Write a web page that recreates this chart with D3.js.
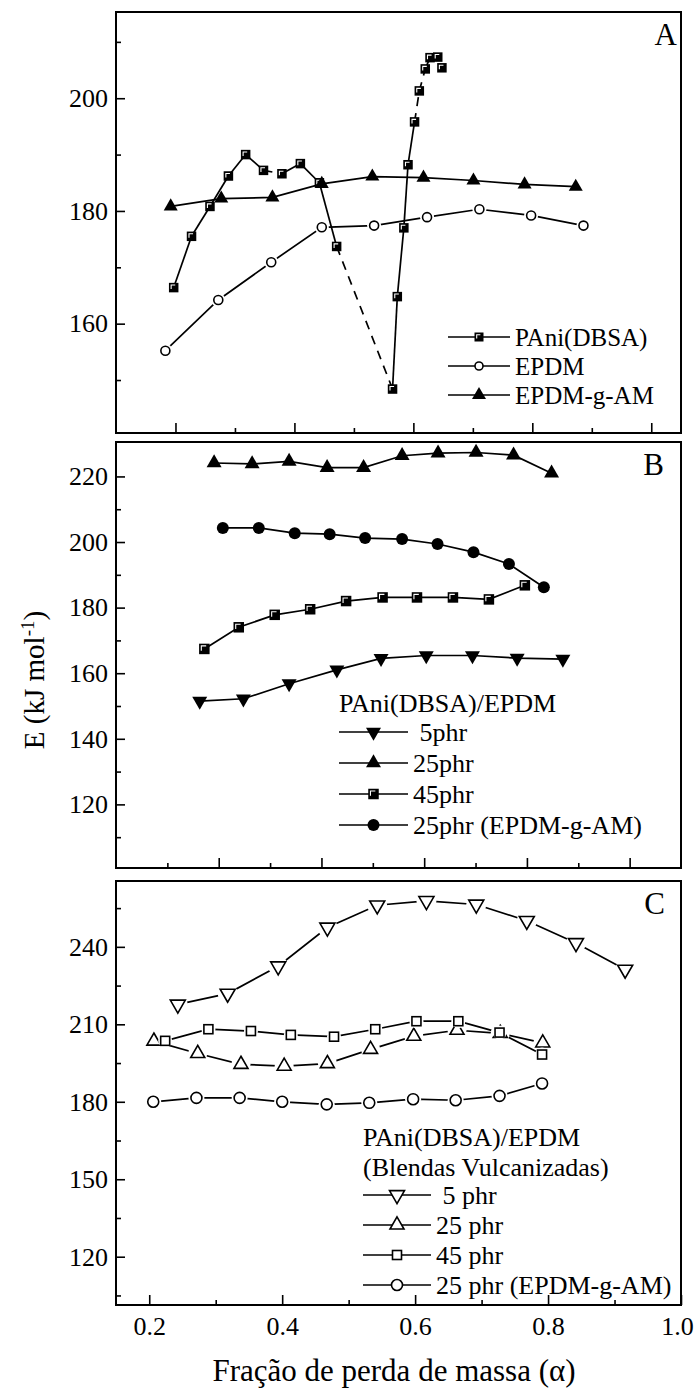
<!DOCTYPE html>
<html>
<head>
<meta charset="utf-8">
<script src="https://cdn.jsdelivr.net/npm/d3@7"></script>
<style>
  body { margin: 0; background: #fff; }
  svg { display: block; }
  text { font-family: "Liberation Serif", "Times New Roman", serif; fill: #000; }
</style>
</head>
<body>
<div id="chart"></div>
<script>
// values (alpha = mass-loss fraction, E in kJ/mol)

// panel A
const alphaPAni = [0.197, 0.227, 0.258, 0.289, 0.318, 0.348, 0.379, 0.410, 0.442, 0.471,
                   0.565, 0.573, 0.584, 0.591, 0.602, 0.610, 0.620, 0.628, 0.641, 0.648];
const ePAni     = [166.4, 175.5, 180.8, 186.2, 190.0, 187.2, 186.6, 188.4, 185.0, 173.7,
                   148.4, 164.8, 177.0, 188.2, 195.8, 201.3, 205.2, 207.2, 207.3, 205.4];
const alphaEPDM = [0.183, 0.272, 0.361, 0.446, 0.534, 0.623, 0.711, 0.798, 0.886];
const eEPDM     = [155.2, 164.2, 170.9, 177.1, 177.4, 178.9, 180.3, 179.2, 177.4];
const alphaGAM  = [0.192, 0.277, 0.363, 0.446, 0.531, 0.617, 0.701, 0.787, 0.873];
const eGAM      = [180.8, 182.2, 182.4, 184.8, 186.1, 185.9, 185.4, 184.7, 184.3];
// PAni segments drawn dashed, and last point joined by a line
const dashedPAni = [5, 9, 14, 15, 16];
const lastJoinedPAni = 17;
const yTicksA = [160, 180, 200];
const legendA = ["PAni(DBSA)", "EPDM", "EPDM-g-AM"];

// panel B
const alphaB5  = [0.163, 0.248, 0.337, 0.430, 0.516, 0.604, 0.694, 0.781, 0.870];
const eB5      = [151.5, 152.2, 156.8, 161.0, 164.5, 165.4, 165.4, 164.6, 164.3];
const alphaB25 = [0.191, 0.265, 0.337, 0.411, 0.482, 0.557, 0.627, 0.701, 0.774, 0.848];
const eB25     = [224.1, 223.8, 224.6, 222.7, 222.7, 226.3, 227.1, 227.3, 226.5, 221.0];
const alphaB45 = [0.172, 0.239, 0.309, 0.378, 0.448, 0.519, 0.586, 0.656, 0.726, 0.796];
const eB45     = [167.4, 174.0, 177.8, 179.5, 182.0, 183.1, 183.1, 183.1, 182.5, 186.8];
const alphaBg  = [0.208, 0.278, 0.348, 0.416, 0.485, 0.557, 0.626, 0.696, 0.765, 0.833];
const eBg      = [204.3, 204.3, 202.7, 202.4, 201.2, 200.9, 199.4, 196.9, 193.3, 186.2];
const yTicksB = [120, 140, 160, 180, 200, 220];
const legendTitleB = ["PAni(DBSA)/EPDM"];
const legendB = [" 5phr", "25phr", "45phr", "25phr (EPDM-g-AM)"];

// panel C
const alphaC5  = [0.243, 0.318, 0.394, 0.468, 0.543, 0.617, 0.692, 0.768, 0.842, 0.916];
const eC5      = [217.7, 221.9, 232.5, 247.5, 256.1, 257.8, 256.4, 250.1, 241.5, 231.2];
const alphaC25 = [0.207, 0.273, 0.338, 0.403, 0.468, 0.533, 0.598, 0.663, 0.728, 0.792];
const eC25     = [203.5, 198.7, 194.5, 193.8, 194.8, 200.3, 205.4, 207.7, 206.5, 202.8];
const alphaC45 = [0.224, 0.289, 0.353, 0.413, 0.478, 0.540, 0.602, 0.665, 0.727, 0.791];
const eC45     = [203.6, 208.1, 207.4, 205.9, 205.2, 208.1, 211.2, 211.2, 206.8, 198.3];
const alphaCg  = [0.206, 0.271, 0.336, 0.400, 0.467, 0.531, 0.597, 0.661, 0.727, 0.791];
const eCg      = [180.0, 181.5, 181.5, 180.0, 179.0, 179.6, 181.0, 180.6, 182.3, 187.1];
const yTicksC = [120, 150, 180, 210, 240];
const legendTitleC = ["PAni(DBSA)/EPDM", "(Blendas Vulcanizadas)"];
const legendC = [" 5 phr", "25 phr", "45 phr", "25 phr (EPDM-g-AM)"];

const xTicks = [0.2, 0.4, 0.6, 0.8, 1.0];
const xTitle = "Fração de perda de massa (α)";

const width = 695, height = 1391;
const left = 116, right = 681;

const svg = d3.select("#chart").append("svg")
  .attr("width", width)
  .attr("height", height);

const zip = (xs, ys) => xs.map((v, i) => [v, ys[i]]);

// marker painter; type names follow the look of the original
function marker(g, type, size) {
  const tri = d3.symbol(d3.symbolTriangle, Math.sqrt(3) / 4 * size * size)();
  if (type === "square") {
    g.append("rect").attr("x", -size / 2).attr("y", -size / 2)
      .attr("width", size).attr("height", size).attr("fill", "#000");
    const s = size / 2 - 2.2;
    g.append("path").attr("d", `M${-s},${s * 0.6}V${-s}H${s * 0.6}`)
      .attr("fill", "none").attr("stroke", "#fff").attr("stroke-width", 1.1);
  } else if (type === "openSquare") {
    g.append("rect").attr("x", -size / 2).attr("y", -size / 2)
      .attr("width", size).attr("height", size)
      .attr("fill", "#fff").attr("stroke", "#000").attr("stroke-width", 1.6);
  } else if (type === "circle") {
    g.append("circle").attr("r", size / 2).attr("fill", "#000");
  } else if (type === "openCircle") {
    g.append("circle").attr("r", size / 2).attr("fill", "#fff")
      .attr("stroke", "#000").attr("stroke-width", 1.6);
  } else if (type === "up" || type === "down") {
    g.append("path").attr("d", tri).attr("fill", "#000")
      .attr("transform", type === "down" ? "rotate(180)" : null);
  } else if (type === "openUp" || type === "openDown") {
    g.append("path").attr("d", tri).attr("fill", "#fff")
      .attr("stroke", "#000").attr("stroke-width", 1.6)
      .attr("transform", type === "openDown" ? "rotate(180)" : null);
  }
}

function drawPanel(p) {
  const x = d3.scaleLinear().domain(p.xDom).range([left, right]);
  const y = d3.scaleLinear().domain(p.yDom).range([p.bottom, p.top]);
  const g = svg.append("g");

  // y axis: majors with labels, minors between
  g.append("g").attr("transform", `translate(${left},0)`)
    .call(d3.axisLeft(y).tickValues(p.yTicks).tickSizeInner(-9).tickSizeOuter(0).tickPadding(8));
  g.append("g").attr("transform", `translate(${left},0)`)
    .call(d3.axisLeft(y).tickValues(p.yMinor).tickSizeInner(-5).tickSizeOuter(0).tickFormat(""));

  const xAxis = g.append("g").attr("transform", `translate(0,${p.bottom})`)
    .call(d3.axisBottom(x).tickValues(xTicks).tickSizeInner(-10).tickSizeOuter(0).tickPadding(12)
      .tickFormat(p.xLabels ? d3.format(".1f") : ""));
  g.append("g").attr("transform", `translate(0,${p.bottom})`)
    .call(d3.axisBottom(x).tickValues(p.xMinor).tickSizeInner(-5).tickSizeOuter(0).tickFormat(""));

  g.selectAll(".domain").remove();
  g.selectAll(".tick line").attr("stroke", "#000").attr("stroke-width", 1.6);
  g.selectAll(".tick text").attr("font-size", 26);
  // the last label sits at the page edge; nudge it inside
  xAxis.selectAll(".tick text").filter(d => d === 1.0).attr("dx", -4);

  // frame
  g.append("rect").attr("x", left).attr("y", p.top)
    .attr("width", right - left).attr("height", p.bottom - p.top)
    .attr("fill", "none").attr("stroke", "#000").attr("stroke-width", 2);

  const line = d3.line().x(d => x(d[0])).y(d => y(d[1]));

  p.series.forEach(s => {
    const pts = zip(s.alpha, s.e);
    if (s.dashed) {
      for (let i = 0; i < Math.min(pts.length - 1, s.lastJoined); i++) {
        g.append("path").attr("d", line([pts[i], pts[i + 1]]))
          .attr("fill", "none").attr("stroke", "#000").attr("stroke-width", 1.7)
          .attr("stroke-dasharray", s.dashed.includes(i) ? "9,7" : null);
      }
    } else {
      g.append("path").attr("d", line(pts))
        .attr("fill", "none").attr("stroke", "#000").attr("stroke-width", 1.7);
    }
  });

  p.series.forEach(s => {
    zip(s.alpha, s.e).forEach(d => {
      const m = g.append("g").attr("transform", `translate(${x(d[0])},${y(d[1])})`);
      if (s.type.startsWith("open")) {
        // white halo so the joining line stops short of open symbols
        m.append("circle").attr("r", s.size / 2 + 2.5).attr("fill", "#fff");
      }
      marker(m, s.type, s.size);
    });
  });

  // panel letter
  g.append("text").attr("x", p.letterX).attr("y", p.top + 33)
    .attr("text-anchor", "end").attr("font-size", 31).text(p.letter);

  // legend
  const L = p.legend;
  L.title.forEach((t, i) => {
    g.append("text").attr("x", L.x0).attr("y", L.titleY + i * L.step)
      .attr("dy", "0.35em").attr("font-size", L.font).text(t);
  });
  L.labels.forEach((t, i) => {
    const s = p.series[L.order[i]];
    const yy = L.rowY + i * L.step;
    g.append("line").attr("x1", L.x0).attr("x2", L.x1).attr("y1", yy).attr("y2", yy)
      .attr("stroke", "#000").attr("stroke-width", 1.7);
    const m = g.append("g").attr("transform", `translate(${(L.x0 + L.x1) / 2},${yy})`);
    marker(m, s.type, L.markerSize ? L.markerSize[i] : s.size);
    g.append("text").attr("x", L.x1 + 5).attr("y", yy).attr("dy", "0.35em")
      .attr("font-size", L.font).style("white-space", "pre").text(t);
  });
}

drawPanel({
  top: 12, bottom: 433, xDom: [0.1, 1.05], yDom: [140.6, 215.3],
  yTicks: yTicksA, yMinor: [150, 170, 190, 210], xMinor: [0.3, 0.5, 0.7, 0.9],
  letter: "A", letterX: 677,
  series: [
    { alpha: alphaPAni, e: ePAni, type: "square", size: 9.5, dashed: dashedPAni, lastJoined: lastJoinedPAni },
    { alpha: alphaEPDM, e: eEPDM, type: "openCircle", size: 9 },
    { alpha: alphaGAM, e: eGAM, type: "up", size: 14 }
  ],
  legend: { x0: 448, x1: 510, titleY: 0, rowY: 337, step: 29, font: 25,
            title: [], labels: legendA, order: [0, 1, 2], markerSize: [9, 8, 14] }
});

drawPanel({
  top: 442, bottom: 868, xDom: [0, 1.1], yDom: [100.6, 230.5],
  yTicks: yTicksB, yMinor: [110, 130, 150, 170, 190, 210], xMinor: [0.1, 0.3, 0.5, 0.7, 0.9],
  letter: "B", letterX: 664,
  series: [
    { alpha: alphaB5, e: eB5, type: "down", size: 15 },
    { alpha: alphaB25, e: eB25, type: "up", size: 15 },
    { alpha: alphaB45, e: eB45, type: "square", size: 10.5 },
    { alpha: alphaBg, e: eBg, type: "circle", size: 12 }
  ],
  legend: { x0: 339, x1: 408, titleY: 703, rowY: 732, step: 31, font: 26,
            title: legendTitleB, labels: legendB, order: [0, 1, 2, 3] }
});

drawPanel({
  top: 881, bottom: 1305, xDom: [0.15, 1.0], yDom: [101.3, 265.5],
  yTicks: yTicksC, yMinor: [105, 135, 165, 195, 225, 255], xMinor: [0.3, 0.5, 0.7, 0.9],
  letter: "C", letterX: 665, xLabels: true,
  series: [
    { alpha: alphaC5, e: eC5, type: "openDown", size: 15 },
    { alpha: alphaC25, e: eC25, type: "openUp", size: 14 },
    { alpha: alphaC45, e: eC45, type: "openSquare", size: 9 },
    { alpha: alphaCg, e: eCg, type: "openCircle", size: 11 }
  ],
  legend: { x0: 363, x1: 431, titleY: 1137, rowY: 1195, step: 30, font: 26,
            title: legendTitleC, labels: legendC, order: [0, 1, 2, 3] }
});

// axis titles
svg.append("text").attr("x", 394).attr("y", 1381)
  .attr("text-anchor", "middle").attr("font-size", 31).text(xTitle);

const yt = svg.append("text")
  .attr("transform", "translate(44,680) rotate(-90)")
  .attr("text-anchor", "middle").attr("font-size", 29);
yt.append("tspan").text("E (kJ mol");
yt.append("tspan").attr("dy", -10).attr("font-size", 19).text("-1");
yt.append("tspan").attr("dy", 10).text(")");
</script>
</body>
</html>
